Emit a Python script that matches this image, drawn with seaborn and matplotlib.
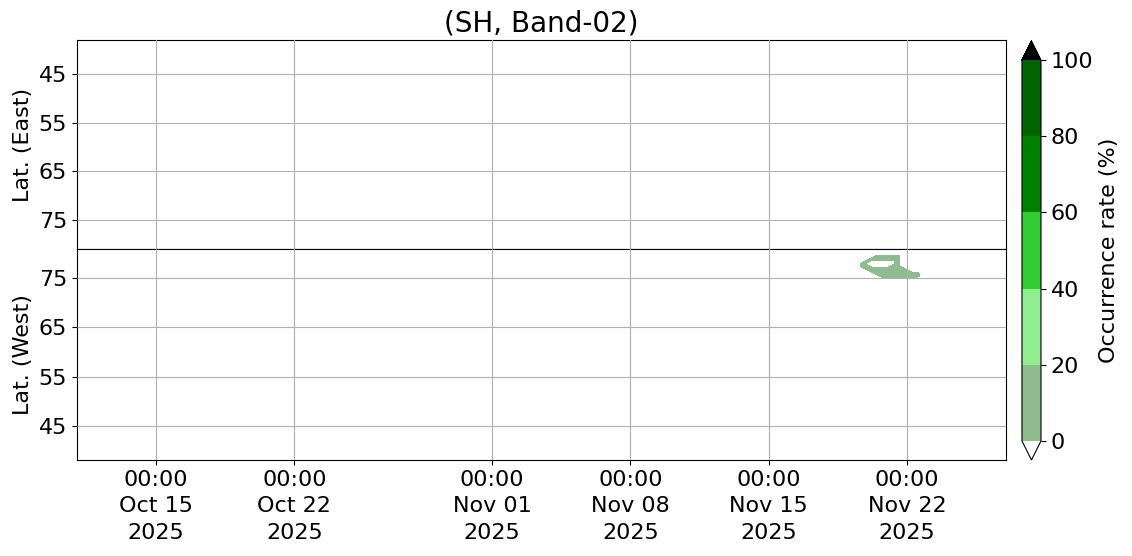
import numpy as np
import pandas as pd
import matplotlib
matplotlib.use('Agg')
import matplotlib.pyplot as plt
import matplotlib.dates as mdates
from matplotlib.colors import ListedColormap, BoundaryNorm
import seaborn as sns

# occurrence-rate grid: 6-hourly times, half-degree latitude bins
times = pd.date_range('2025-10-11', '2025-11-27', freq='6h')
lats = np.arange(38, 81.5, 0.5)
NO_DATA = -5.0

# the only detection (West side), nan = nothing seen
patch_times = pd.date_range('2025-11-19', periods=17, freq='6h')
patch_lats = [79.5, 79, 78.5, 78, 77.5, 77, 76.5, 76, 75.5]
n = np.nan
patch_west = [
    [n, n, n, n, n, n, 6, 6, 6, 6, 6, n, n, n, n, n, n],
    [n, n, n, n, n, 6, 6, 6, 6, 6, 6, n, n, n, n, n, n],
    [n, n, n, n, 6, n, n, n, n, n, 6, n, n, n, n, n, n],
    [n, n, n, 6, n, n, n, n, n, n, 6, n, n, n, n, n, n],
    [n, n, n, 6, 6, n, n, n, n, 6, 6, n, n, n, n, n, n],
    [n, n, n, n, 6, 6, 6, 6, 6, 6, 6, 6, n, n, n, n, n],
    [n, n, n, n, n, 6, 6, 6, 6, 6, 6, 6, 6, n, n, n, n],
    [n, n, n, n, n, n, 6, 6, 6, 6, 6, 6, 6, 6, 6, n, n],
    [n, n, n, n, n, n, n, 6, 6, 6, 6, 6, 6, 6, 6, n, n],
]

levels = [0, 20, 40, 60, 80, 100]
colors = ['darkseagreen', 'lightgreen', 'limegreen', 'green', 'darkgreen']
yticks = [45, 55, 65, 75]
xticks = ['2025-10-15', '2025-10-22', '2025-11-01', '2025-11-08', '2025-11-15', '2025-11-22']

east = np.full((len(lats), len(times)), NO_DATA)
west = np.full((len(lats), len(times)), NO_DATA)
ti = times.get_indexer(patch_times)
for r, la in enumerate(patch_lats):
    li = int(np.argmin(np.abs(lats - la)))
    row = np.array(patch_west[r], dtype=float)
    west[li, ti] = np.where(np.isnan(row), NO_DATA, row)

sns.set_style('ticks')
plt.rcParams['font.family'] = ['DejaVu Sans']
plt.rcParams['font.size'] = 16
for k in ['text.color', 'axes.labelcolor', 'xtick.color', 'ytick.color', 'axes.edgecolor']:
    plt.rcParams[k] = 'black'

cmap = ListedColormap(sns.color_palette(colors))
cmap.set_over('black')
cmap.set_under('white')
norm = BoundaryNorm(levels, cmap.N)

fig = plt.figure(figsize=(11.32, 5.56), dpi=100)
ax1 = fig.add_axes([0.068, 0.5522, 0.8207, 0.3759])
ax2 = fig.add_axes([0.068, 0.1727, 0.8207, 0.3795], sharex=ax1)
cax = fig.add_axes([0.9028, 0.1727, 0.0168, 0.7536])

for ax, data, lab in [(ax1, east, 'Lat. (East)'), (ax2, west, 'Lat. (West)')]:
    cf = ax.contourf(times, lats, data, levels=levels, cmap=cmap, norm=norm, extend='both')
    ax.set_ylabel(lab, fontsize=16)
    ax.set_yticks(yticks)
    ax.grid(True, color='#b0b0b0', linewidth=0.8)
    ax.set_axisbelow(False)
    ax.tick_params(labelsize=16, color='black')
    for s in ax.spines.values():
        s.set_linewidth(0.8)
        s.set_color('black')

ax1.set_ylim(81, 38)
ax2.set_ylim(38, 81)
ax2.set_xlim(pd.Timestamp('2025-10-11'), pd.Timestamp('2025-11-27'))
ax2.set_xticks(pd.to_datetime(xticks))
ax2.xaxis.set_major_formatter(mdates.DateFormatter('%H:%M\n%b %d\n%Y'))
plt.setp(ax2.get_xticklabels(), linespacing=1.42)
plt.setp(ax1.get_xticklabels(), visible=False)
ax1.set_title('(SH, Band-02)', fontsize=20)

cb = fig.colorbar(cf, cax=cax, extend='both', ticks=levels)
cb.set_label('Occurrence rate (%)', fontsize=16)
cb.ax.tick_params(labelsize=16, color='black')
cb.outline.set_linewidth(0.8)

fig.savefig('out.png', dpi=100)
